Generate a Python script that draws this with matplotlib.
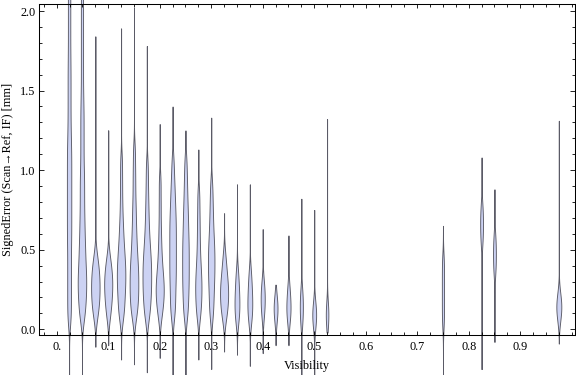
import numpy as np
import matplotlib
matplotlib.use("Agg")
import matplotlib.pyplot as plt
from matplotlib.ticker import FixedLocator, MultipleLocator, FuncFormatter

# Visibility bins (x position of each distribution)
visibility = [0.025, 0.05, 0.075, 0.1, 0.125, 0.15, 0.175, 0.2, 0.225, 0.25,
              0.275, 0.3, 0.325, 0.35, 0.375, 0.4, 0.425, 0.45, 0.475, 0.5,
              0.525, 0.75, 0.825, 0.85, 0.975]

# signed error samples per visibility bin [mm]
signed_error = [
    [0.05, 0.12, 0.19, 0.26, 0.33, 0.40, 0.47, 0.54, 0.60, 0.66, 0.72, 0.78, 0.84, 0.90, 0.96,
     1.02, 1.08, 1.14, 1.21, 1.29, 1.38, 1.47, 1.56, 1.65, 1.75, 1.86, 1.97, 2.08, 2.19],
    [0.06, 0.10, 0.14, 0.18, 0.21, 0.24, 0.27, 0.30, 0.33, 0.36, 0.39, 0.43, 0.47, 0.51, 0.55,
     0.60, 0.65, 0.70, 0.76, 0.82, 0.88, 0.94, 1.00, 1.08, 1.16, 1.24, 1.32, 1.40, 1.50, 1.62,
     1.74, 1.86, 1.98, 2.10],
    [0.08, 0.12, 0.16, 0.19, 0.22, 0.25, 0.28, 0.31, 0.34, 0.37, 0.41, 0.46],
    [0.08, 0.13, 0.17, 0.21, 0.24, 0.27, 0.30, 0.33, 0.36, 0.40, 0.45],
    [0.07, 0.11, 0.15, 0.19, 0.23, 0.26, 0.29, 0.32, 0.35, 0.38, 0.41, 0.44, 0.48, 0.52, 0.57,
     0.63, 0.70, 0.80, 0.92, 1.05],
    [0.07, 0.11, 0.15, 0.18, 0.21, 0.24, 0.27, 0.30, 0.33, 0.36, 0.39, 0.42, 0.46, 0.50, 0.55,
     0.60, 0.66, 0.73, 0.80, 0.90, 1.00, 1.12],
    [0.07, 0.11, 0.15, 0.19, 0.22, 0.25, 0.28, 0.31, 0.34, 0.37, 0.40, 0.43, 0.46, 0.50, 0.54,
     0.59, 0.65, 0.72, 0.80, 0.90, 1.02],
    [0.08, 0.13, 0.17, 0.20, 0.23, 0.26, 0.29, 0.32, 0.36, 0.41, 0.47, 0.55, 0.65, 0.78, 0.92],
    [0.08, 0.13, 0.18, 0.23, 0.28, 0.32, 0.36, 0.40, 0.44, 0.48, 0.52, 0.56, 0.60, 0.64, 0.68,
     0.72, 0.77, 0.82, 0.88, 0.95, 1.05],
    [0.08, 0.13, 0.18, 0.23, 0.27, 0.31, 0.35, 0.39, 0.43, 0.47, 0.51, 0.55, 0.59, 0.64, 0.69,
     0.74, 0.80, 0.87, 0.95, 1.05],
    [0.08, 0.13, 0.18, 0.22, 0.26, 0.30, 0.34, 0.39, 0.45, 0.53, 0.62, 0.72, 0.84],
    [0.08, 0.14, 0.20, 0.25, 0.30, 0.34, 0.38, 0.42, 0.46, 0.50, 0.54, 0.59, 0.65, 0.72, 0.80,
     0.90],
    [0.07, 0.11, 0.15, 0.18, 0.21, 0.24, 0.27, 0.30, 0.34, 0.39, 0.46],
    [0.06, 0.11, 0.16, 0.21, 0.27, 0.35],
    [0.06, 0.11, 0.16, 0.21, 0.27, 0.35],
    [0.10, 0.16, 0.22, 0.28],
    [0.08, 0.13, 0.18],
    [0.07, 0.12, 0.17, 0.25],
    [0.06, 0.14, 0.22],
    [0.04, 0.09, 0.14],
    [0.05, 0.13],
    [0.06, 0.18, 0.30, 0.42],
    [0.57, 0.66, 0.75],
    [0.38, 0.47, 0.56],
    [0.08, 0.12, 0.16, 0.20],
]

# extent of each smoothed density (where the thin tails end)
tail_lo = [-0.32, -0.32, -0.11, -0.10, -0.19, -0.22, -0.27, -0.18, -0.32, -0.32,
           -0.19, -0.25, -0.14, -0.16, -0.23, -0.15, -0.10, -0.10, -0.32, -0.32,
           -0.02, -0.32, -0.25, -0.08, -0.09]
tail_hi = [2.25, 2.25, 1.84, 1.25, 1.89, 2.02, 1.78, 1.29, 1.40, 1.25,
           1.13, 1.33, 0.73, 0.91, 0.91, 0.63, 0.28, 0.59, 0.82, 0.75,
           1.32, 0.65, 1.08, 0.88, 1.31]

x_ticks = [0.0, 0.1, 0.2, 0.3, 0.4, 0.5, 0.6, 0.7, 0.8, 0.9]
x_tick_labels = ["0.", "0.1", "0.2", "0.3", "0.4", "0.5", "0.6", "0.7", "0.8", "0.9"]
y_ticks = [0.0, 0.5, 1.0, 1.5, 2.0]

FILL = "#ccd2f3"
EDGE = "#5a5a66"
FONT = ["Liberation Serif", "DejaVu Serif"]
BW = 0.07            # kernel bandwidth [mm]
PX_PER_SAMPLE = 0.75  # half-width in pixels of one isolated sample

XLIM = (-0.0344, 1.0064)
YLIM = (-0.034, 2.044)

plt.rcParams["font.family"] = FONT

W, H = 576, 375
fig = plt.figure(figsize=(W / 100, H / 100), dpi=100)
ax_l, ax_r, ax_t, ax_b = 39, 575, 4, 334.7
ax = fig.add_axes([ax_l / W, (H - ax_b) / H, (ax_r - ax_l) / W, (ax_b - ax_t) / H])
ax.set_xlim(*XLIM)
ax.set_ylim(*YLIM)

px_per_x = (ax_r - ax_l) / (XLIM[1] - XLIM[0])

for x, samples, lo, hi in zip(visibility, signed_error, tail_lo, tail_hi):
    y = np.linspace(lo, hi, 700)
    s = np.asarray(samples)
    k = np.exp(-0.5 * ((y[:, None] - s[None, :]) / BW) ** 2).sum(axis=1)
    hw = k * PX_PER_SAMPLE / px_per_x
    ax.fill_betweenx(y, x - hw, x + hw, facecolor=FILL, edgecolor=EDGE,
                     linewidth=0.65, clip_on=False, zorder=1)

ax.xaxis.set_major_locator(FixedLocator(x_ticks))
ax.xaxis.set_major_formatter(FuncFormatter(lambda v, p: x_tick_labels[p] if p < len(x_tick_labels) else ""))
ax.xaxis.set_minor_locator(MultipleLocator(0.025))
ax.yaxis.set_major_locator(FixedLocator(y_ticks))
ax.yaxis.set_major_formatter(FuncFormatter(lambda v, p: f"{v:.1f}"))
ax.yaxis.set_minor_locator(MultipleLocator(0.1))

ax.tick_params(which="both", direction="in", top=True, right=True, width=0.6, color="black")
ax.tick_params(axis="x", which="major", length=3.0, pad=4.5, labelsize=8.8)
ax.tick_params(axis="x", which="minor", length=2.0)
ax.tick_params(axis="y", which="major", length=3.6, pad=2.4, labelsize=8.8)
ax.tick_params(axis="y", which="minor", length=2.2)

for sp in ax.spines.values():
    sp.set_linewidth(0.75)
    sp.set_color("black")
    sp.set_zorder(3)

fig.text(307 / W, 1 - 366 / H, "Visibility", ha="center", va="center", fontsize=8.8)
fig.text(8 / W, 1 - 169.5 / H, "SignedError (Scan\u2192Ref, IF) [mm]", ha="center", va="center",
         rotation=90, fontsize=8.8)

fig.savefig("out.png", dpi=100, facecolor="white")
